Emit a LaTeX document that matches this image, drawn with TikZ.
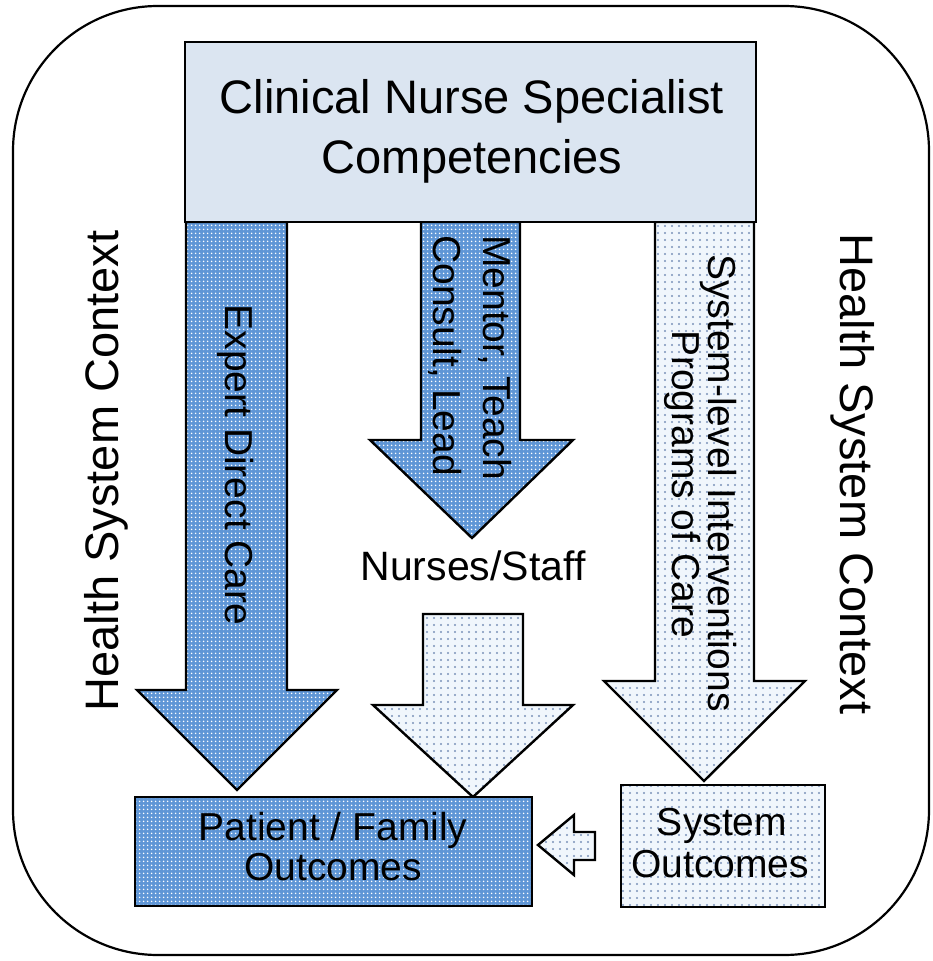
\documentclass[tikz,border=0pt]{standalone}
\usepackage{fontspec}
\setmainfont{Liberation Sans}
\usetikzlibrary{patterns.meta}
\definecolor{darkfill}{HTML}{5F96D6}
\definecolor{lightfill}{HTML}{F0F6FC}
\definecolor{lightdot}{HTML}{7A92B8}
\definecolor{topfill}{HTML}{DBE5F1}
\begin{document}
\begin{tikzpicture}[x=1pt,y=-1pt,
  darkshape/.style={draw=black, line width=2.4pt, line join=miter, preaction={fill=darkfill}, pattern={Dots[distance=4pt,radius=1pt]}, pattern color=white},
  lightshape/.style={draw=black, line width=2.4pt, line join=miter, preaction={fill=lightfill}, pattern={Dots[distance=7pt,radius=1.1pt]}, pattern color=lightdot},
  lbl/.style={font=\fontsize{39}{46}\selectfont, inner sep=0pt},
  biglbl/.style={font=\fontsize{47}{60}\selectfont, inner sep=0pt},
]
\useasboundingbox (0,0) rectangle (933,961);
% outer frame
\draw[line width=2.2pt, rounded corners=145pt] (13,6) rectangle (929,955);

% arrows
\draw[darkshape] (186,222) -- (186,690) -- (137,690) -- (237,790) -- (337,690) -- (287,690) -- (287,222) -- cycle;
\draw[darkshape] (421,222) -- (421,440) -- (370,440) -- (472,538) -- (573,440) -- (520,440) -- (520,222) -- cycle;
\draw[lightshape] (655,222) -- (655,681) -- (604,681) -- (704,781) -- (805,681) -- (754,681) -- (754,222) -- cycle;
\draw[lightshape] (423,614) -- (423,705) -- (373,705) -- (473,797) -- (573,705) -- (523,705) -- (523,614) -- cycle;
\draw[lightshape] (538,845) -- (574,815) -- (574,832) -- (595,832) -- (595,860) -- (574,860) -- (574,875) -- cycle;

% top box
\draw[line width=2.2pt, fill=topfill] (185,42) rectangle (756,222);
\node[biglbl, align=center] (cns) at (472,131) {Clinical Nurse Specialist\\Competencies};

% outcome boxes
\draw[darkshape] (135,797) rectangle (532,906);
\draw[lightshape] (621,785) rectangle (825,907);

% labels
\node[biglbl, rotate=90, anchor=base] (hscL) at (118,471) {Health System Context};
\node[biglbl, rotate=-90, anchor=base] (hscR) at (840,474) {Health System Context};

\node[lbl, rotate=-90, anchor=base] (edc) at (225,465) {Expert Direct Care};
\node[lbl, rotate=-90, anchor=base west] (mentA) at (483,235) {Mentor, Teach};
\node[lbl, rotate=-90, anchor=base west] (mentB) at (433,235) {Consult, Lead};
\node[lbl, rotate=-90, anchor=base] (sysA) at (708,483) {System-level Interventions};
\node[lbl, rotate=-90, anchor=base] (sysB) at (672,484) {Programs of Care};

\node[lbl, font=\fontsize{41}{48}\selectfont, anchor=base] (nurses) at (473,580) {Nurses/Staff};

\node[lbl, anchor=base] (patA) at (333,840) {Patient / Family};
\node[lbl, anchor=base] (patB) at (333,880) {Outcomes};
\node[lbl, anchor=base] (soA) at (722,835) {System};
\node[lbl, anchor=base] (soB) at (720,877) {Outcomes};
\end{tikzpicture}
\end{document}
